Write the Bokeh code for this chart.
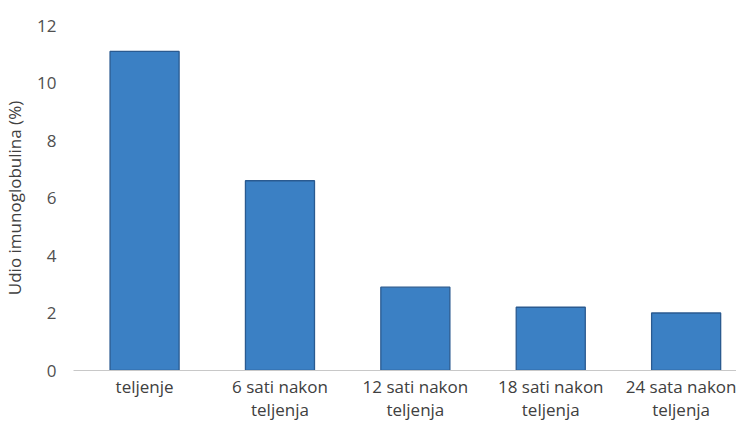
from bokeh.plotting import figure
from bokeh.models import Range1d, FixedTicker
from bokeh.embed import file_html
from bokeh.resources import INLINE

categories = ["teljenje", "6 sati nakon\nteljenja", "12 sati nakon\nteljenja",
              "18 sati nakon\nteljenja", "24 sata nakon\nteljenja"]
values = [11.1, 6.6, 2.9, 2.2, 2.0]
y_ticks = [0, 2, 4, 6, 8, 10, 12]

xs = list(range(len(categories)))

p = figure(width=736, height=423, output_backend="svg", toolbar_location=None,
           x_range=Range1d(-0.525, 4.372), y_range=Range1d(0, 12),
           min_border_left=10, min_border_right=0, min_border_top=25, min_border_bottom=0)
p.outline_line_color = None
p.background_fill_color = "white"
p.border_fill_color = "white"

p.vbar(x=xs, top=values, width=0.51, fill_color="#3B80C4", line_color="#2A5A90", line_width=1.3)

font = "Open Sans"
for ax in (p.xaxis, p.yaxis):
    ax.major_tick_out = 0
    ax.major_tick_in = 0
    ax.minor_tick_out = 0
    ax.minor_tick_in = 0
    ax.major_tick_line_color = None
    ax.minor_tick_line_color = None

p.xaxis.ticker = FixedTicker(ticks=xs)
p.xaxis.major_label_overrides = {i: c for i, c in enumerate(categories)}
p.xaxis.axis_line_color = "#C8C8C8"
p.xaxis.major_label_text_font = font
p.xaxis.major_label_text_font_size = "17px"
p.xaxis.major_label_text_line_height = 1.0
p.xaxis.major_label_text_color = "#404040"
p.xaxis.major_label_standoff = 4
p.xaxis.axis_label_standoff = 0

p.yaxis.ticker = FixedTicker(ticks=y_ticks)
p.yaxis.axis_line_color = None
p.yaxis.major_label_text_font = font
p.yaxis.major_label_text_font_size = "17px"
p.yaxis.major_label_text_color = "#505050"
p.yaxis.major_label_standoff = 17
p.yaxis.axis_label = "Udio imunoglobulina (%)"
p.yaxis.axis_label_text_font = font
p.yaxis.axis_label_text_font_size = "17px"
p.yaxis.axis_label_text_font_style = "normal"
p.yaxis.axis_label_text_color = "#404040"
p.yaxis.axis_label_standoff = 8

p.xgrid.grid_line_color = None
p.ygrid.grid_line_color = None

open("out.html", "w").write(file_html(p, INLINE))
